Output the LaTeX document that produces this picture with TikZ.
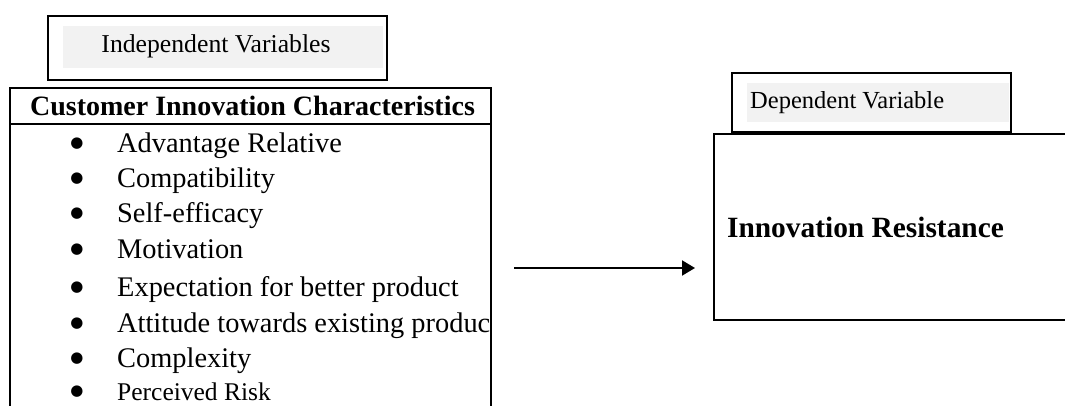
\documentclass[tikz,border=0pt]{standalone}
\usepackage{fontspec}
\setmainfont{Liberation Serif}
\newfontfamily\bulfont{DejaVu Sans}
\usetikzlibrary{arrows.meta}
\definecolor{lightfill}{HTML}{F2F2F2}
\begin{document}
\begin{tikzpicture}[x=1pt,y=-1pt,
  boxline/.style={draw=black,line width=2pt},
  item/.style={anchor=base west,inner sep=0pt,font=\fontsize{28.4}{30}\selectfont},
  bul/.style={anchor=center,inner sep=0pt,font=\bulfont\fontsize{15}{15}\selectfont},
  link/.style={line width=2pt,-{Triangle[length=13pt,width=15pt]}}]
\useasboundingbox (0,0) rectangle (1065,405);
\clip (0,0) rectangle (1065,405);
% Independent Variables label
\fill[lightfill] (63,26) rectangle (383,68);
\node[boxline,minimum width=339pt,minimum height=64pt,anchor=north west,inner sep=0pt] (indep) at (47,15) {};
\node[anchor=base,inner sep=0pt,font=\fontsize{25.7}{28}\selectfont] (indeptxt) at (216,52) {Independent Variables};
% Customer Innovation Characteristics box
\node[boxline,minimum width=481pt,minimum height=36pt,anchor=north west,inner sep=0pt] (cichead) at (9,87) {};
\node[anchor=base,inner sep=0pt,font=\fontsize{28}{30}\selectfont\bfseries] (cictxt) at (252.5,115) {Customer Innovation Characteristics};
\node[boxline,minimum width=481pt,minimum height=320pt,anchor=north west,inner sep=0pt] (cicbody) at (9,123) {};
\begin{scope}
\clip (10,124) rectangle (489,405);
\foreach \y/\t/\n in {152/Advantage Relative/i1,187/Compatibility/i2,222/Self-efficacy/i3,258/Motivation/i4,296/Expectation for better product/i5,332/Attitude towards existing produc/i6,367/Complexity/i7}{
  \node[bul] (b\n) at (77,\y-8) {●};
  \node[item] (\n) at (117,\y) {\t};
}
\node[bul] (bi8) at (77,392) {●};
\node[item,font=\fontsize{25.5}{28}\selectfont] (i8) at (117,400) {Perceived Risk};
\end{scope}
% Dependent Variable label
\fill[lightfill] (747,83) rectangle (1009,122);
\node[boxline,minimum width=279pt,minimum height=59pt,anchor=north west,inner sep=0pt] (dep) at (731,72) {};
\node[anchor=base west,inner sep=0pt,font=\fontsize{24.5}{27}\selectfont] (deptxt) at (750,108) {Dependent Variable};
% Innovation Resistance box
\node[boxline,minimum width=380pt,minimum height=186pt,anchor=north west,inner sep=0pt] (ir) at (713,133) {};
\node[anchor=base,inner sep=0pt,font=\fontsize{29.4}{31}\selectfont\bfseries] (irtxt) at (865.5,237) {Innovation Resistance};
% Arrow
\coordinate (a1) at (514,268);
\coordinate (a2) at (695,268);
\draw[link] (a1) -- (a2);
\end{tikzpicture}
\end{document}
